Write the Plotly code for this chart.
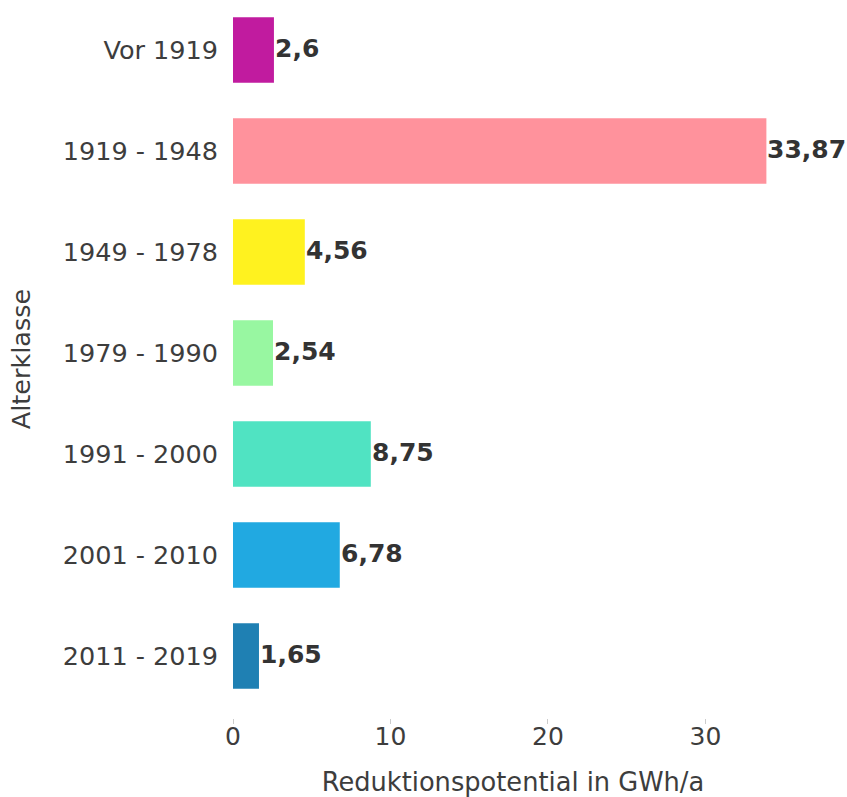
import plotly.graph_objects as go

# Age classes of the building stock and their reduction potential (GWh/a)
categories = ["Vor 1919", "1919 - 1948", "1949 - 1978", "1979 - 1990",
              "1991 - 2000", "2001 - 2010", "2011 - 2019"]
values = [2.6, 33.87, 4.56, 2.54, 8.75, 6.78, 1.65]
value_labels = ["2,6", "33,87", "4,56", "2,54", "8,75", "6,78", "1,65"]
bar_colors = ["#C11B9F", "#FF929C", "#FFF21F", "#98F7A1",
              "#50E3C2", "#21A9E1", "#1F80B3"]

FONT = "DejaVu Sans"
TEXT = "#3d3d3d"

fig = go.Figure()
fig.add_trace(go.Bar(
    x=values,
    y=categories,
    orientation="h",
    width=0.65,
    marker=dict(color=bar_colors, line=dict(width=0)),
    hoverinfo="skip",
))

# bold value labels just right of each bar end
for cat, val, lab in zip(categories, values, value_labels):
    fig.add_annotation(
        x=val, y=cat, xref="x", yref="y",
        text=f"<b>{lab}</b>", showarrow=False,
        xanchor="left", yanchor="middle", xshift=-1, yshift=1,
        font=dict(family=FONT, size=25, color="#333333"),
    )

fig.update_layout(
    width=847, height=797,
    margin=dict(l=233, r=54, t=0, b=79),
    paper_bgcolor="white", plot_bgcolor="white",
    showlegend=False,
    font=dict(family=FONT, size=25, color=TEXT),
    xaxis=dict(
        range=[0, 35.56],
        automargin=False,
        tickvals=[0, 10, 20, 30],
        ticks="outside", ticklen=5, tickwidth=1, tickcolor="#cccccc",
        showgrid=False, zeroline=False, showline=False,
        ticklabelstandoff=-9,
        tickfont=dict(family=FONT, size=25, color=TEXT),
        title=dict(text="Reduktionspotential in GWh/a",
                   font=dict(family=FONT, size=25.7, color=TEXT), standoff=35),
    ),
    yaxis=dict(
        type="category",
        automargin=False,
        categoryorder="array", categoryarray=categories,
        range=[6.614, -0.495],
        showgrid=False, zeroline=False, showline=False,
        ticks="", ticklabelstandoff=14,
        tickfont=dict(family=FONT, size=25.5, color=TEXT),
        title=dict(text="Alterklasse",
                   font=dict(family=FONT, size=25.5, color=TEXT), standoff=24),
    ),
)

fig.write_html("out.html")
